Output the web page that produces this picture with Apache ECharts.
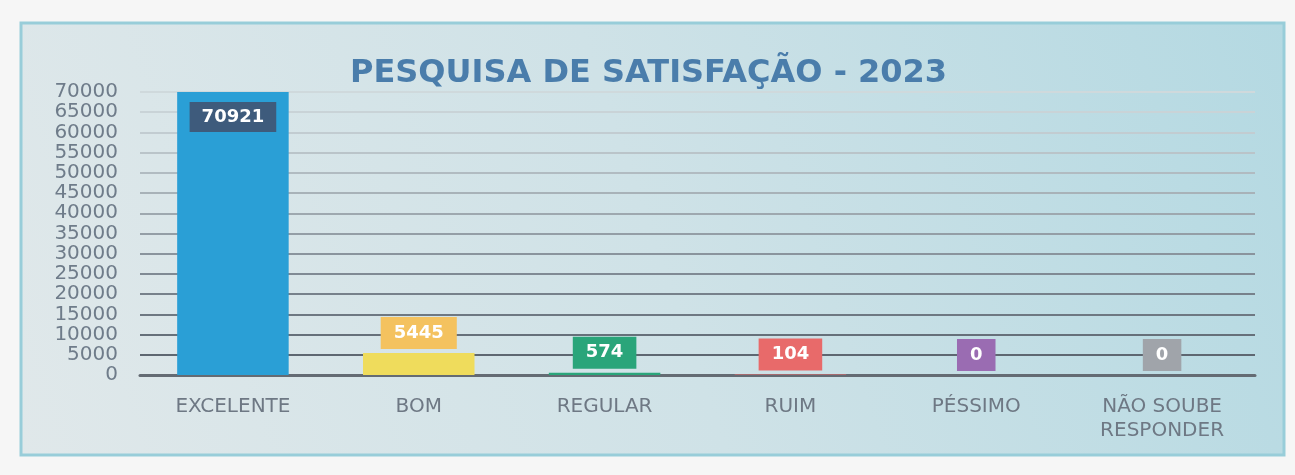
<!DOCTYPE html>
<html>
<head>
<meta charset="utf-8">
<script src="https://cdn.jsdelivr.net/npm/echarts@6/dist/echarts.min.js"></script>
<style>
html,body{margin:0;padding:0;background:#f6f6f6;}
#c{width:1295px;height:475px;}
</style>
</head>
<body>
<div id="c"></div>
<script>
// ---- data ----
const categories = ['EXCELENTE', 'BOM', 'REGULAR', 'RUIM', 'PÉSSIMO', 'NÃO SOUBE\nRESPONDER'];
const values = [70921, 5445, 574, 104, 0, 0];
const yTicks = { min: 0, max: 70000, interval: 5000 };
const titleText = 'PESQUISA DE SATISFAÇÃO - 2023';

// ---- styles ----
const barColors = ['#2a9fd6', '#efdc5c', '#2aa57a', '#e86a6a', '#9a6cb2', '#a0a4aa'];
const labelBg = ['#3e5b7c', '#f4c25f', '#2aa57a', '#e86a6a', '#9a6cb2', '#a0a4aa'];
const gridColors = ['#59626c','#5e6771','#66707a','#6e7882','#77818b','#808a94','#8a949d','#949ea6','#9ea8af','#a8b2b8','#b1bbc1','#bac4c9','#c2ccd1','#c9d3d7','#cfd9dc'];

const chart = echarts.init(document.getElementById('c'));
const data = values.map((v, i) => ({
  value: v,
  itemStyle: { color: barColors[i] },
  label: {
    show: true,
    position: i === 0 ? 'insideTop' : 'top',
    distance: i === 0 ? 10 : 4,
    backgroundColor: labelBg[i],
    color: '#ffffff',
    fontWeight: 'bold',
    fontFamily: 'DejaVu Sans',
    fontSize: 18,
    padding: i === 0 ? [6, 12] : [7, 13],
    formatter: '{c}'
  }
}));

chart.setOption({
  animation: false,
  backgroundColor: '#f6f6f6',
  graphic: [{
    type: 'rect',
    z: -10,
    shape: { x: 21, y: 23, width: 1263, height: 432 },
    style: {
      fill: new echarts.graphic.LinearGradient(0, 1, 1, 0, [
        { offset: 0, color: '#e0e8ea' },
        { offset: 0.5, color: '#cfe2e7' },
        { offset: 1, color: '#b4d9e2' }
      ]),
      stroke: '#98cdd9',
      lineWidth: 3
    }
  }],
  title: {
    text: titleText,
    left: 345,
    top: 53,
    textStyle: {
      fontFamily: 'DejaVu Sans',
      fontWeight: 'bold',
      fontSize: 32,
      color: '#4a7dab'
    }
  },
  grid: { left: 140, right: 40, top: 92, bottom: 100 },
  xAxis: {
    type: 'category',
    data: categories,
    axisTick: { show: false },
    axisLine: { show: true, lineStyle: { color: '#646b73', width: 3 } },
    axisLabel: {
      margin: 20,
      fontFamily: 'DejaVu Sans',
      fontSize: 20,
      color: '#6e7884',
      lineHeight: 24
    }
  },
  yAxis: {
    type: 'value',
    min: yTicks.min,
    max: yTicks.max,
    interval: yTicks.interval,
    axisLine: { show: false },
    axisTick: { show: false },
    axisLabel: {
      margin: 22,
      fontFamily: 'DejaVu Sans',
      fontSize: 20,
      lineHeight: 16,
      color: '#6f7c8a',
      showMinLabel: true,
      showMaxLabel: true,
      hideOverlap: false,
      formatter: v => String(v)
    },
    splitLine: { show: true, lineStyle: { color: gridColors, width: 2 } }
  },
  series: [{
    type: 'bar',
    data: data,
    barWidth: '60%'
  }]
});
</script>
</body>
</html>
